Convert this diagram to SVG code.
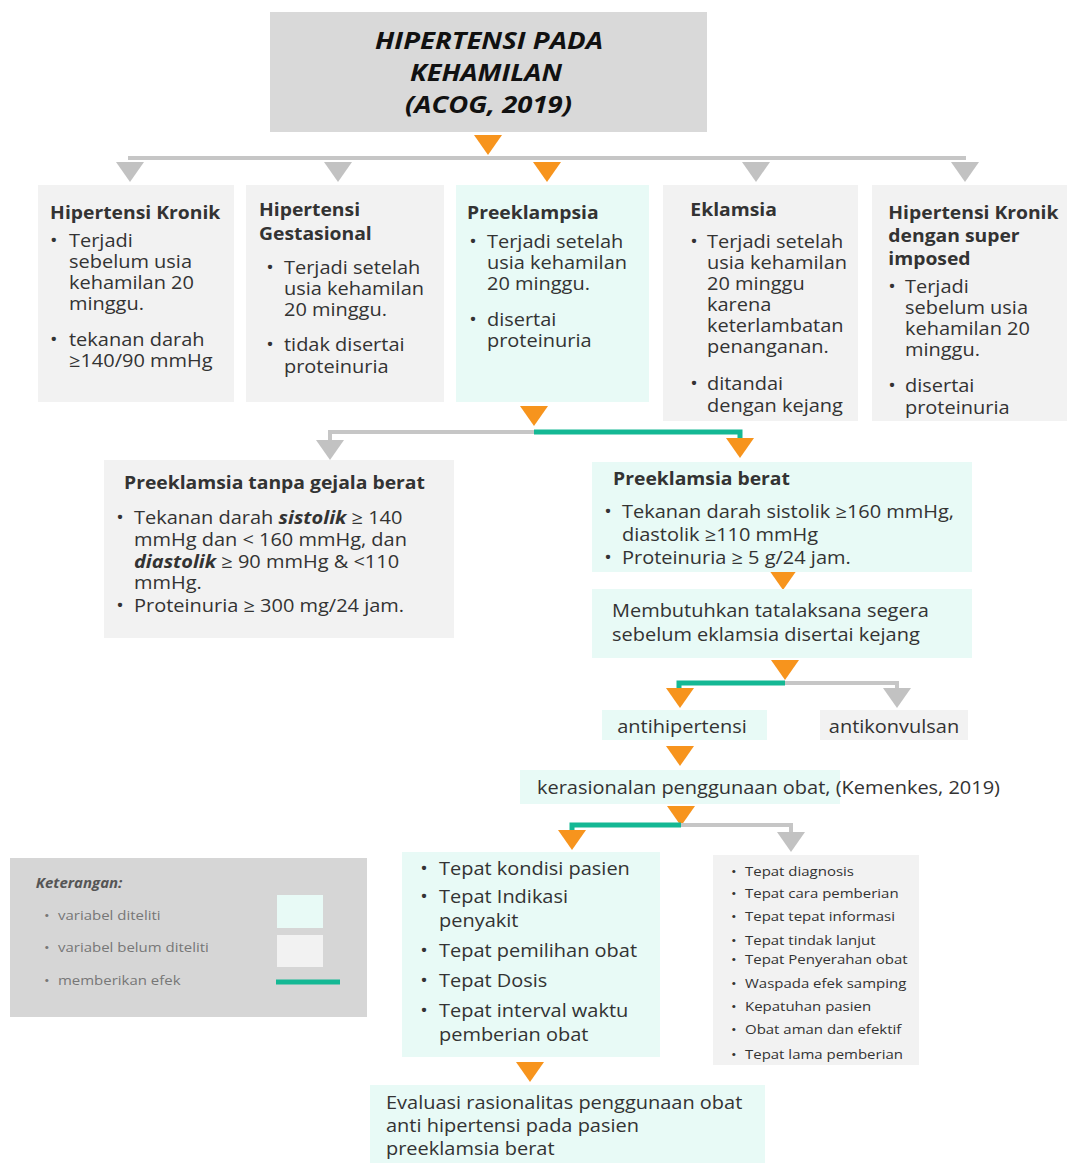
<svg xmlns="http://www.w3.org/2000/svg" width="1067" height="1163" viewBox="0 0 1067 1163">
<style>
text{font-family:"Open Sans","Noto Sans","DejaVu Sans",sans-serif;fill:#333;}
.b{font-size:18px;}
.h{font-size:17.4px;font-weight:bold;}
.s{font-size:13.5px;}
.t{font-size:23px;font-weight:bold;font-style:italic;fill:#111;}
.l{font-size:13.5px;fill:#777;}
.g{fill:#f2f2f2;}
.c{fill:#e8faf6;}
.gl{stroke:#c6c6c6;stroke-width:4;fill:none;}
.tl{stroke:#14b894;stroke-width:5;fill:none;}
.ot{fill:#f7941d;}
.gt{fill:#c2c2c2;}
</style>
<defs>
<path id="tri" d="M-14,0 L14,0 L0,20 Z"/>
</defs>
<rect width="1067" height="1163" fill="#fff"/>

<g id="title">
<rect x="270" y="12" width="437" height="120" fill="#d9d9d9"/>
<text x="375" y="49" class="t" textLength="228" lengthAdjust="spacingAndGlyphs">HIPERTENSI PADA</text>
<text x="410" y="81" class="t" textLength="152" lengthAdjust="spacingAndGlyphs">KEHAMILAN</text>
<text x="405" y="113" class="t" textLength="167" lengthAdjust="spacingAndGlyphs">(ACOG, 2019)</text>
</g>

<g id="connectors">
<use href="#tri" x="488" y="135" class="ot"/>
<line x1="128" y1="158" x2="966" y2="158" class="gl"/>
<use href="#tri" x="130" y="162" class="gt"/>
<use href="#tri" x="338" y="162" class="gt"/>
<use href="#tri" x="547" y="162" class="ot"/>
<use href="#tri" x="756" y="162" class="gt"/>
<use href="#tri" x="965" y="162" class="gt"/>

<use href="#tri" x="534" y="406" class="ot"/>
<polyline points="534,432 330,432 330,440" class="gl"/>
<polyline points="534,432 740,432 740,440" class="tl"/>
<use href="#tri" x="330" y="440" class="gt"/>
<use href="#tri" x="740" y="438" class="ot"/>

<use href="#tri" x="783" y="570" class="ot"/>
<use href="#tri" x="785" y="660" class="ot"/>
<polyline points="785,683 897,683 897,690" class="gl"/>
<polyline points="785,683 679,683 679,690" class="tl"/>
<use href="#tri" x="680" y="688" class="ot"/>
<use href="#tri" x="897" y="688" class="gt"/>

<use href="#tri" x="680" y="746" class="ot"/>
<use href="#tri" x="681" y="806" class="ot"/>
<polyline points="681,825 791,825 791,832" class="gl"/>
<polyline points="681,825 572,825 572,832" class="tl"/>
<use href="#tri" x="572" y="830" class="ot"/>
<use href="#tri" x="791" y="832" class="gt"/>

<use href="#tri" x="530" y="1062" class="ot"/>
</g>

<g id="hipertensi-kronik">
<rect x="38" y="185" width="196" height="217" class="g"/>
<g transform="matrix(1.11 0 0 1 -7.59 0)">
<text x="52" y="219" class="h">Hipertensi Kronik</text>
<text x="52" y="247" class="b">•</text>
<text x="69" y="247" class="b">Terjadi</text>
<text x="69" y="268" class="b">sebelum usia</text>
<text x="69" y="289" class="b">kehamilan 20</text>
<text x="69" y="310" class="b">minggu.</text>
<text x="52" y="346" class="b">•</text>
<text x="69" y="346" class="b">tekanan darah</text>
<text x="69" y="367" class="b">≥140/90 mmHg</text>
</g>
</g>

<g id="hipertensi-gestasional">
<rect x="246" y="185" width="198" height="217" class="g"/>
<g transform="matrix(1.11 0 0 1 -31.24 0)">
<text x="261.5" y="216" class="h">Hipertensi</text>
<text x="261.5" y="240" class="h">Gestasional</text>
<text x="268" y="274" class="b">•</text>
<text x="284" y="274" class="b">Terjadi setelah</text>
<text x="284" y="295" class="b">usia kehamilan</text>
<text x="284" y="316" class="b">20 minggu.</text>
<text x="268" y="351" class="b">•</text>
<text x="284" y="351" class="b">tidak disertai</text>
<text x="284" y="373" class="b">proteinuria</text>
</g>
</g>

<g id="preeklampsia">
<rect x="456" y="185" width="193" height="217" class="c"/>
<g transform="matrix(1.11 0 0 1 -53.57 0)">
<text x="469" y="219" class="h">Preeklampsia</text>
<text x="471" y="248" class="b">•</text>
<text x="487" y="248" class="b">Terjadi setelah</text>
<text x="487" y="269" class="b">usia kehamilan</text>
<text x="487" y="290" class="b">20 minggu.</text>
<text x="471" y="326" class="b">•</text>
<text x="487" y="326" class="b">disertai</text>
<text x="487" y="347" class="b">proteinuria</text>
</g>
</g>

<g id="eklamsia">
<rect x="663" y="185" width="195" height="236" class="g"/>
<g transform="matrix(1.11 0 0 1 -77.77 0)">
<text x="692" y="216" class="h">Eklamsia</text>
<text x="692" y="248" class="b">•</text>
<text x="707" y="248" class="b">Terjadi setelah</text>
<text x="707" y="269" class="b">usia kehamilan</text>
<text x="707" y="290" class="b">20 minggu</text>
<text x="707" y="311" class="b">karena</text>
<text x="707" y="332" class="b">keterlambatan</text>
<text x="707" y="353" class="b">penanganan.</text>
<text x="692" y="390" class="b">•</text>
<text x="707" y="390" class="b">ditandai</text>
<text x="707" y="412" class="b">dengan kejang</text>
</g>
</g>

<g id="hipertensi-kronik-superimposed">
<rect x="872" y="185" width="195" height="236" class="g"/>
<g transform="matrix(1.11 0 0 1 -99.55 0)">
<text x="890" y="219" class="h">Hipertensi Kronik</text>
<text x="890" y="242" class="h">dengan super</text>
<text x="890" y="265" class="h">imposed</text>
<text x="890" y="293" class="b">•</text>
<text x="905" y="293" class="b">Terjadi</text>
<text x="905" y="314" class="b">sebelum usia</text>
<text x="905" y="335" class="b">kehamilan 20</text>
<text x="905" y="356" class="b">minggu.</text>
<text x="890" y="392" class="b">•</text>
<text x="905" y="392" class="b">disertai</text>
<text x="905" y="414" class="b">proteinuria</text>
</g>
</g>

<g id="preeklamsia-tanpa-gejala-berat">
<rect x="104" y="460" width="350" height="178" class="g"/>
<g transform="matrix(1.11 0 0 1 -14.74 0)">
<text x="125" y="489" class="h">Preeklamsia tanpa gejala berat</text>
<text x="118" y="524" class="b">•</text>
<text x="134" y="524" class="b">Tekanan darah <tspan font-weight="bold" font-style="italic">sistolik</tspan> ≥ 140</text>
<text x="134" y="546" class="b">mmHg dan &lt; 160 mmHg, dan</text>
<text x="134" y="568" class="b"><tspan font-weight="bold" font-style="italic">diastolik</tspan> ≥ 90 mmHg &amp; &lt;110</text>
<text x="134" y="589" class="b">mmHg.</text>
<text x="118" y="612" class="b">•</text>
<text x="134" y="612" class="b">Proteinuria ≥ 300 mg/24 jam.</text>
</g>
</g>

<g id="preeklamsia-berat">
<rect x="592" y="462" width="380" height="110" class="c"/>
<g transform="matrix(1.11 0 0 1 -68.42 0)">
<text x="614" y="485" class="h">Preeklamsia berat</text>
<text x="606" y="518" class="b">•</text>
<text x="622" y="518" class="b">Tekanan darah sistolik ≥160 mmHg,</text>
<text x="622" y="541" class="b">diastolik ≥110 mmHg</text>
<text x="606" y="564" class="b">•</text>
<text x="622" y="564" class="b">Proteinuria ≥ 5 g/24 jam.</text>
</g>
</g>

<g id="membutuhkan-tatalaksana">
<rect x="592" y="589" width="380" height="69" class="c"/>
<g transform="matrix(1.11 0 0 1 -67.32 0)">
<text x="612" y="617" class="b">Membutuhkan tatalaksana segera</text>
<text x="612" y="641" class="b">sebelum eklamsia disertai kejang</text>
</g>
</g>

<g id="antihipertensi">
<rect x="602" y="710" width="165" height="30" class="c"/>
<text x="682" y="733" class="b" text-anchor="middle" transform="matrix(1.11 0 0 1 -75.02 0)">antihipertensi</text>
</g>

<g id="antikonvulsan">
<rect x="820" y="710" width="148" height="30" class="g"/>
<text x="894" y="733" class="b" text-anchor="middle" transform="matrix(1.11 0 0 1 -98.34 0)">antikonvulsan</text>
</g>

<g id="kerasionalan">
<rect x="520" y="770" width="320" height="34" class="c"/>
<text x="537" y="794" class="b" transform="matrix(1.11 0 0 1 -59.07 0)">kerasionalan penggunaan obat, (Kemenkes, 2019)</text>
</g>

<g id="tepat-diteliti">
<rect x="402" y="852" width="258" height="205" class="c"/>
<g transform="matrix(1.11 0 0 1 -48.29 0)">
<text x="422" y="875" class="b">•</text>
<text x="439" y="875" class="b">Tepat kondisi pasien</text>
<text x="422" y="903" class="b">•</text>
<text x="439" y="903" class="b">Tepat Indikasi</text>
<text x="439" y="927" class="b">penyakit</text>
<text x="422" y="957" class="b">•</text>
<text x="439" y="957" class="b">Tepat pemilihan obat</text>
<text x="422" y="987" class="b">•</text>
<text x="439" y="987" class="b">Tepat Dosis</text>
<text x="422" y="1017" class="b">•</text>
<text x="439" y="1017" class="b">Tepat interval waktu</text>
<text x="439" y="1041" class="b">pemberian obat</text>
</g>
</g>

<g id="tepat-belum-diteliti">
<rect x="713" y="855" width="206" height="210" class="g"/>
<g transform="matrix(1.11 0 0 1 -81.95 0)">
<text x="732.5" y="876" class="s">•</text><text x="745" y="876" class="s">Tepat diagnosis</text>
<text x="732.5" y="898" class="s">•</text><text x="745" y="898" class="s">Tepat cara pemberian</text>
<text x="732.5" y="921" class="s">•</text><text x="745" y="921" class="s">Tepat tepat informasi</text>
<text x="732.5" y="945" class="s">•</text><text x="745" y="945" class="s">Tepat tindak lanjut</text>
<text x="732.5" y="964" class="s">•</text><text x="745" y="964" class="s">Tepat Penyerahan obat</text>
<text x="732.5" y="988" class="s">•</text><text x="745" y="988" class="s">Waspada efek samping</text>
<text x="732.5" y="1011" class="s">•</text><text x="745" y="1011" class="s">Kepatuhan pasien</text>
<text x="732.5" y="1034" class="s">•</text><text x="745" y="1034" class="s">Obat aman dan efektif</text>
<text x="732.5" y="1059" class="s">•</text><text x="745" y="1059" class="s">Tepat lama pemberian</text>
</g>
</g>

<g id="evaluasi">
<rect x="370" y="1085" width="395" height="78" class="c"/>
<g transform="matrix(1.11 0 0 1 -42.46 0)">
<text x="386" y="1109" class="b">Evaluasi rasionalitas penggunaan obat</text>
<text x="386" y="1132" class="b">anti hipertensi pada pasien</text>
<text x="386" y="1155" class="b">preeklamsia berat</text>
</g>
</g>

<g id="legend">
<rect x="10" y="858" width="357" height="159" fill="#d6d6d6"/>
<g transform="matrix(1.11 0 0 1 -6.38 0)">
<text x="38" y="888" style="font-size:13.5px;font-weight:bold;font-style:italic;fill:#555">Keterangan:</text>
<text x="45.5" y="920" class="l">•</text>
<text x="58" y="920" class="l">variabel diteliti</text>
<text x="45.5" y="952" class="l">•</text>
<text x="58" y="952" class="l">variabel belum diteliti</text>
<text x="45.5" y="985" class="l">•</text>
<text x="58" y="985" class="l">memberikan efek</text>
</g>
<rect x="277" y="895" width="46" height="33" class="c"/>
<rect x="277" y="935" width="46" height="32" class="g"/>
<line x1="276" y1="982" x2="340" y2="982" class="tl" stroke-width="6"/>
</g>
</svg>
